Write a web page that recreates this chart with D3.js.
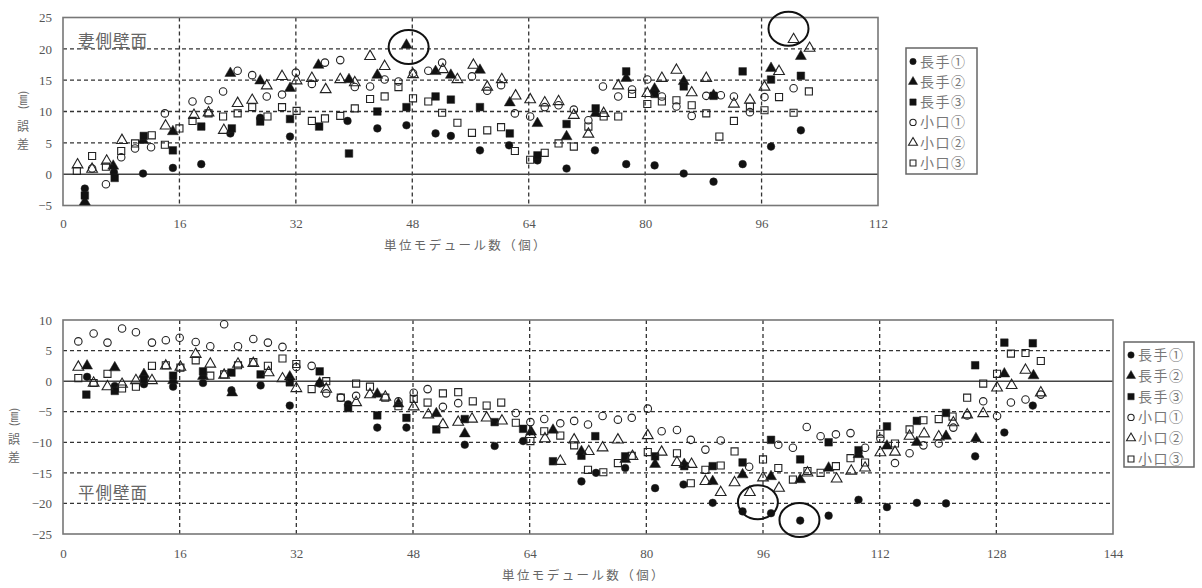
<!DOCTYPE html>
<html>
<head>
<meta charset="utf-8">
<script src="https://cdn.jsdelivr.net/npm/d3@7"></script>
<style>
body { margin: 0; background: #fff; }
</style>
</head>
<body>
<script>
// ---- 妻側壁面 (upper chart) ----
const topNagate1 = [[3.0,-2.3],[7.0,0.3],[11.0,0.1],[15.1,1.0],[19.0,1.6],[23.0,6.5],[27.1,9.0],[31.2,6.0],[39.1,8.5],[43.2,7.3],[47.2,7.8],[51.2,6.5],[53.3,6.1],[57.3,3.8],[61.3,4.6],[65.2,2.2],[69.2,0.9],[73.1,3.8],[77.4,1.6],[81.3,1.4],[85.3,0.1],[89.4,-1.2],[93.4,1.6],[97.3,4.4],[101.4,7.0]];
const topNagate2 = [[3.0,-4.4],[6.9,1.3],[11.0,5.4],[15.1,6.8],[23.0,16.1],[27.1,14.9],[31.2,13.7],[35.1,17.4],[39.3,15.1],[43.2,15.8],[47.2,20.6],[51.2,16.4],[53.3,15.8],[57.3,16.6],[61.4,11.4],[65.2,8.1],[69.2,6.0],[73.2,9.7],[77.4,15.3],[81.3,13.6],[85.3,14.8],[89.4,12.6],[97.3,16.9],[101.4,18.8]];
const topNagate3 = [[3.0,-3.4],[7.1,-0.6],[11.1,6.1],[15.1,3.8],[19.0,7.6],[23.2,7.3],[27.1,8.4],[31.2,8.8],[35.2,7.6],[39.3,3.3],[43.2,10.0],[47.2,10.7],[51.2,12.4],[53.3,11.9],[57.3,10.7],[61.4,6.5],[65.2,3.0],[69.2,8.0],[73.2,10.5],[77.4,16.4],[81.3,12.8],[85.3,14.0],[89.4,12.5],[93.4,16.4],[97.3,15.1],[101.4,15.7]];
const topKoguchi1 = [[4.0,0.9],[5.9,-1.6],[8.0,2.7],[9.9,4.1],[12.1,4.3],[14.0,9.7],[17.8,11.6],[20.0,11.8],[22.0,13.2],[24.0,16.5],[26.0,15.8],[28.0,12.4],[30.1,12.7],[32.0,16.2],[34.2,14.4],[36.0,17.8],[38.1,18.2],[40.1,13.9],[42.2,14.0],[44.2,15.1],[46.1,14.8],[48.1,16.1],[50.2,16.5],[52.1,17.8],[56.2,15.6],[58.3,13.3],[60.2,14.2],[62.1,9.7],[64.2,9.2],[66.2,10.7],[68.1,11.0],[70.2,10.3],[72.2,8.6],[74.2,14.0],[76.3,12.4],[78.2,13.5],[80.3,15.1],[82.3,12.4],[84.3,10.8],[86.4,9.3],[88.4,12.5],[90.4,12.6],[92.2,12.4],[94.4,9.9],[96.4,12.3],[100.4,13.7]];
const topKoguchi2 = [[2.0,1.5],[4.0,0.8],[6.0,2.1],[8.1,5.4],[14.1,7.7],[18.0,9.4],[20.0,9.8],[22.1,7.0],[24.0,11.3],[26.0,11.8],[28.0,14.1],[30.1,15.6],[32.1,14.9],[34.2,15.3],[36.1,13.5],[38.1,15.1],[40.1,14.6],[42.2,18.8],[44.2,17.2],[48.1,15.9],[52.2,16.7],[54.2,15.1],[56.4,17.4],[58.3,13.9],[60.3,15.1],[62.2,12.5],[64.2,11.9],[66.2,11.4],[68.1,11.6],[70.2,9.4],[72.2,6.4],[74.3,9.7],[76.3,14.1],[80.3,12.9],[82.3,15.3],[84.3,16.6],[86.4,13.0],[88.4,15.3],[92.2,11.2],[94.4,11.8],[96.4,13.9],[98.4,16.4],[100.4,21.5],[102.6,20.1]];
const topKoguchi3 = [[1.9,0.5],[4.0,2.9],[5.9,1.2],[8.0,3.7],[9.9,4.9],[12.2,6.2],[14.0,4.7],[16.0,7.3],[17.8,8.5],[20.0,9.7],[22.0,9.2],[24.0,9.7],[26.0,10.7],[28.1,9.2],[30.1,10.7],[32.1,10.1],[34.2,8.5],[36.0,8.9],[38.1,9.3],[40.1,10.5],[42.2,12.0],[44.2,12.4],[46.1,13.9],[48.1,12.1],[50.2,11.6],[52.1,9.8],[54.2,8.2],[56.2,6.6],[58.3,7.0],[60.2,7.5],[62.1,3.7],[64.2,2.3],[66.2,3.4],[68.1,4.9],[70.2,4.4],[72.2,7.6],[74.3,9.2],[76.3,9.2],[78.2,12.8],[80.3,11.2],[82.3,11.6],[84.3,11.8],[86.4,11.0],[88.4,9.7],[90.2,6.0],[92.2,8.5],[94.4,10.8],[96.4,10.2],[98.4,12.3],[100.4,9.8],[102.5,13.2]];

// ---- 平側壁面 (lower chart) ----
const botNagate1 = [[3.3,0.7],[7.1,-0.8],[11.1,-0.5],[15.1,-0.9],[19.2,-0.3],[23.1,-1.5],[27.1,-0.7],[31.1,-4.0],[35.2,-0.4],[39.1,-3.8],[43.1,-7.6],[47.1,-7.6],[55.1,-10.4],[59.2,-10.6],[63.1,-9.8],[71.1,-16.4],[73.1,-15.0],[77.1,-14.2],[81.2,-17.5],[85.1,-16.9],[89.1,-19.9],[93.2,-21.3],[97.1,-21.6],[101.1,-22.8],[105.0,-22.0],[109.1,-19.4],[113.0,-20.6],[117.1,-19.9],[121.1,-20.0],[125.1,-12.3],[129.1,-8.4],[133.0,-4.0]];
const botNagate2 = [[3.3,2.5],[7.1,2.2],[11.1,1.1],[15.1,0.1],[19.2,0.8],[23.2,-1.9],[31.1,0.7],[35.2,-0.3],[43.1,-2.1],[46.0,-3.7],[51.2,-5.3],[55.1,-8.6],[64.2,-8.3],[67.2,-8.0],[71.1,-11.5],[77.1,-12.8],[81.2,-13.6],[85.2,-13.6],[89.1,-16.4],[93.2,-15.3],[97.1,-15.6],[101.1,-16.1],[105.0,-14.2],[109.1,-12.0],[113.0,-10.6],[117.1,-10.0],[121.1,-9.0],[125.2,-9.4],[129.1,1.2],[133.1,0.9]];
const botNagate3 = [[3.2,-2.2],[7.1,-1.6],[11.1,0.3],[15.1,0.9],[19.2,1.6],[23.1,1.4],[27.1,1.1],[31.1,-0.2],[35.2,1.6],[39.1,-4.4],[43.1,-5.6],[47.1,-6.0],[51.2,-7.9],[55.1,-6.2],[59.2,-6.7],[63.1,-7.8],[67.2,-13.1],[71.1,-12.2],[73.0,-9.0],[77.1,-12.3],[81.2,-12.3],[85.2,-13.9],[89.1,-13.9],[93.2,-13.3],[97.1,-9.6],[101.1,-12.8],[105.0,-10.0],[109.1,-11.3],[113.0,-7.4],[117.1,-6.5],[121.1,-5.2],[125.1,2.6],[129.1,6.3],[133.0,6.2]];
const botKoguchi1 = [[2.1,6.5],[4.2,7.8],[6.1,6.3],[8.1,8.6],[10.0,8.0],[12.2,6.3],[14.1,6.7],[16.0,7.1],[18.2,6.4],[20.2,5.7],[22.1,9.3],[24.0,5.7],[26.1,6.9],[28.1,6.3],[30.1,5.6],[32.0,2.3],[34.1,2.5],[36.1,-2.0],[38.1,-2.7],[40.2,-2.4],[46.0,-3.3],[48.1,-1.9],[50.0,-1.3],[52.1,-4.2],[54.2,-3.6],[62.1,-5.2],[64.1,-6.7],[66.0,-6.2],[68.2,-6.9],[70.1,-6.5],[72.0,-7.1],[74.0,-5.7],[76.1,-6.3],[78.0,-6.0],[80.2,-4.5],[82.1,-8.2],[84.2,-8.0],[86.1,-9.6],[88.1,-11.2],[90.2,-9.7],[94.1,-14.0],[98.1,-10.4],[100.1,-10.9],[102.0,-7.5],[103.9,-9.0],[106.0,-8.7],[108.0,-8.5],[110.0,-10.9],[112.1,-9.4],[114.1,-13.4],[116.1,-11.8],[118.0,-10.5],[120.1,-10.2],[122.1,-7.6],[124.0,-5.6],[126.2,-3.3],[128.1,-5.7],[130.0,-3.5],[132.0,-3.0],[134.1,-2.2]];
const botKoguchi2 = [[2.1,2.3],[4.2,-0.3],[6.1,-0.9],[8.1,-0.5],[10.0,0.1],[12.2,0.1],[14.1,2.5],[16.1,2.3],[18.2,4.4],[20.2,2.8],[22.1,1.0],[24.0,2.8],[26.1,2.9],[28.2,1.4],[30.1,0.4],[32.0,-1.2],[36.1,-1.3],[40.2,-3.5],[42.1,-2.2],[44.2,-2.6],[48.1,-4.2],[50.1,-5.5],[52.1,-7.1],[54.2,-6.7],[56.1,-6.2],[58.1,-6.0],[60.2,-6.5],[64.1,-8.7],[66.1,-9.4],[68.2,-13.1],[70.1,-9.6],[72.1,-11.5],[74.0,-10.9],[76.1,-9.6],[78.1,-12.3],[80.2,-8.9],[82.1,-11.6],[84.2,-13.3],[86.2,-13.6],[88.1,-16.4],[90.2,-18.2],[92.1,-16.6],[94.2,-18.2],[96.0,-15.8],[98.2,-17.5],[102.1,-15.0],[106.1,-16.0],[108.1,-14.7],[110.0,-14.2],[112.1,-11.7],[114.1,-11.6],[116.1,-9.0],[118.1,-8.6],[120.1,-9.1],[122.1,-6.8],[124.0,-5.5],[126.2,-5.3],[128.1,-1.1],[130.1,-0.7],[132.0,1.8],[134.1,-1.9]];
const botKoguchi3 = [[2.1,0.5],[4.2,-0.3],[6.1,1.2],[8.1,-1.2],[10.0,-0.9],[12.2,2.5],[14.1,2.6],[16.1,2.2],[18.2,3.4],[20.2,0.9],[22.1,1.1],[24.0,2.6],[26.1,3.1],[28.1,2.5],[30.1,3.7],[32.0,2.8],[34.1,-1.3],[36.1,0.0],[38.1,-2.7],[40.2,-0.4],[42.1,-0.9],[44.2,-2.7],[46.0,-4.1],[48.1,-2.9],[50.0,-3.5],[52.1,-2.0],[54.2,-1.8],[56.2,-3.3],[58.1,-4.0],[60.1,-3.5],[62.1,-6.8],[64.1,-9.8],[66.0,-8.2],[68.2,-8.9],[70.1,-10.5],[72.0,-14.5],[74.1,-14.9],[76.1,-13.4],[78.0,-12.2],[80.2,-11.6],[84.2,-11.8],[86.1,-16.7],[88.1,-14.5],[90.2,-13.8],[92.1,-11.5],[96.0,-12.8],[98.1,-14.2],[100.1,-16.1],[102.1,-14.7],[103.9,-15.0],[106.0,-13.9],[108.0,-12.6],[110.0,-13.3],[112.1,-8.6],[114.1,-10.2],[116.1,-7.9],[118.0,-6.4],[120.1,-6.2],[122.0,-5.8],[124.0,-2.7],[126.2,-0.4],[128.1,1.2],[130.0,4.5],[132.0,4.6],[134.1,3.3]];

const seriesNames = ["長手①", "長手②", "長手③", "小口①", "小口②", "小口③"];
const topXTicks = [0, 16, 32, 48, 64, 80, 96, 112];
const topYTicks = [-5, 0, 5, 10, 15, 20, 25];
const botXTicks = [0, 16, 32, 48, 64, 80, 96, 112, 128, 144];
const botYTicks = [-25, -20, -15, -10, -5, 0, 5, 10];
// circled points (data units)
const topMarks = [[47.5, 20.3], [99.7, 23.2]];
const botMarks = [[95.3, -19.8], [101.0, -22.7]];

const width = 1202;
const height = 588;

const svg = d3.select("body").append("svg")
    .attr("width", width)
    .attr("height", height);

const shapes = [d3.symbolCircle, d3.symbolTriangle, d3.symbolSquare, d3.symbolCircle, d3.symbolTriangle, d3.symbolSquare];
const sizes = [46, 52, 58, 44, 50, 50];
const solid = [true, true, true, false, false, false];

function drawPanel(p) {
    const x = d3.scaleLinear().domain(d3.extent(p.xTicks)).range([p.left, p.right]);
    const y = d3.scaleLinear().domain(d3.extent(p.yTicks)).range([p.bottom, p.top]);
    const g = svg.append("g");

    // dashed grid
    g.selectAll(".hgrid")
        .data(p.yTicks.slice(1, -1).filter(v => v !== 0))
        .enter().append("line")
        .attr("x1", p.left).attr("x2", p.right)
        .attr("y1", d => y(d)).attr("y2", d => y(d))
        .attr("stroke", "#333").attr("stroke-width", 1.3)
        .attr("stroke-dasharray", "4,3");
    g.selectAll(".vgrid")
        .data(p.xTicks.slice(1, -1))
        .enter().append("line")
        .attr("x1", d => x(d)).attr("x2", d => x(d))
        .attr("y1", p.top).attr("y2", p.bottom)
        .attr("stroke", "#333").attr("stroke-width", 1.3)
        .attr("stroke-dasharray", "4,3");
    g.append("line")
        .attr("x1", p.left).attr("x2", p.right)
        .attr("y1", y(0)).attr("y2", y(0))
        .attr("stroke", "#444").attr("stroke-width", 1.5);
    g.append("rect")
        .attr("x", p.left).attr("y", p.top)
        .attr("width", p.right - p.left).attr("height", p.bottom - p.top)
        .attr("fill", "none").attr("stroke", "#777").attr("stroke-width", 1.6);

    // axes
    const ax = g.append("g")
        .attr("transform", "translate(0," + p.bottom + ")")
        .call(d3.axisBottom(x).tickValues(p.xTicks).tickSize(0).tickPadding(p.xPad));
    const ay = g.append("g")
        .attr("transform", "translate(" + p.left + ",0)")
        .call(d3.axisLeft(y).tickValues(p.yTicks).tickSize(0).tickPadding(11));
    [ax, ay].forEach(a => {
        a.select(".domain").remove();
        a.selectAll("text")
            .attr("font-family", "Liberation Serif, serif")
            .attr("font-size", 13)
            .attr("fill", "#555");
    });

    // axis titles
    g.append("text")
        .attr("x", p.xTitle[0]).attr("y", p.xTitle[1])
        .attr("text-anchor", "middle")
        .attr("font-family", "Noto Sans CJK JP")
        .attr("font-size", 12.5)
        .attr("letter-spacing", 2.4)
        .attr("fill", "#666")
        .text("単位モデュール数（個）");
    g.append("text")
        .attr("transform", "translate(" + p.yTitle[0] + "," + p.yTitle[1] + ") rotate(-90)")
        .attr("text-anchor", "middle")
        .attr("dy", "0.35em")
        .attr("font-family", "Noto Sans CJK JP")
        .attr("font-size", 11)
        .attr("fill", "#666")
        .text("(㎜)");
    ["誤", "差"].forEach((c, i) => {
        g.append("text")
            .attr("x", p.yTitle[0]).attr("y", p.yTitle[2] + i * 18)
            .attr("text-anchor", "middle")
            .attr("dy", "0.35em")
            .attr("font-family", "Noto Sans CJK JP")
            .attr("font-size", 12)
            .attr("fill", "#666")
            .text(c);
    });

    // panel label
    g.append("text")
        .attr("x", p.label[0]).attr("y", p.label[1])
        .attr("dy", "0.35em")
        .attr("font-family", "Noto Sans CJK JP")
        .attr("font-size", 16.5)
        .attr("letter-spacing", 1)
        .attr("fill", "#666")
        .text(p.labelText);

    // points
    p.series.forEach((data, i) => {
        g.selectAll(".s" + i)
            .data(data)
            .enter().append("path")
            .attr("class", "s" + i)
            .attr("d", d3.symbol().type(shapes[i]).size(sizes[i]))
            .attr("transform", d => "translate(" + x(d[0]) + "," + y(d[1]) + ")")
            .attr("fill", solid[i] ? "#111" : "none")
            .attr("stroke", "#222")
            .attr("stroke-width", solid[i] ? 0.5 : 1.1);
    });

    // circled points
    g.selectAll(".mark")
        .data(p.marks)
        .enter().append("ellipse")
        .attr("cx", d => x(d[0])).attr("cy", d => y(d[1]))
        .attr("rx", 20).attr("ry", 17)
        .attr("fill", "none").attr("stroke", "#111").attr("stroke-width", 2);

    // legend
    const lg = g.append("g").attr("transform", "translate(" + p.legend[0] + "," + p.legend[1] + ")");
    lg.append("rect")
        .attr("width", p.legend[2]).attr("height", p.legend[3])
        .attr("fill", "#fff").attr("stroke", "#666").attr("stroke-width", 1.5);
    seriesNames.forEach((name, i) => {
        const yy = p.legend[4] + i * p.legend[5];
        lg.append("path")
            .attr("d", d3.symbol().type(shapes[i]).size(sizes[i] * 0.7))
            .attr("transform", "translate(7," + yy + ")")
            .attr("fill", solid[i] ? "#111" : "none")
            .attr("stroke", "#222")
            .attr("stroke-width", solid[i] ? 0.5 : 1.1);
        lg.append("text")
            .attr("x", 14).attr("y", yy)
            .attr("dy", "0.36em")
            .attr("font-family", "Noto Sans CJK JP")
            .attr("font-size", 14)
            .attr("letter-spacing", 1.5)
            .attr("fill", "#777")
            .text(name);
    });
}

drawPanel({
    left: 63, right: 878, top: 17.5, bottom: 205.5,
    xTicks: topXTicks, yTicks: topYTicks, xPad: 13,
    series: [topNagate1, topNagate2, topNagate3, topKoguchi1, topKoguchi2, topKoguchi3],
    marks: topMarks,
    xTitle: [466, 250], yTitle: [23, 100, 127],
    label: [78, 41], labelText: "妻側壁面",
    legend: [906, 48, 71, 126, 13.5, 20.3]
});

drawPanel({
    left: 63, right: 1113, top: 320, bottom: 534,
    xTicks: botXTicks, yTicks: botYTicks, xPad: 15,
    series: [botNagate1, botNagate2, botNagate3, botKoguchi1, botKoguchi2, botKoguchi3],
    marks: botMarks,
    xTitle: [584, 580], yTitle: [14, 417, 440],
    label: [78, 493], labelText: "平側壁面",
    legend: [1124, 342, 70, 125, 13, 20.8]
});
</script>
</body>
</html>
